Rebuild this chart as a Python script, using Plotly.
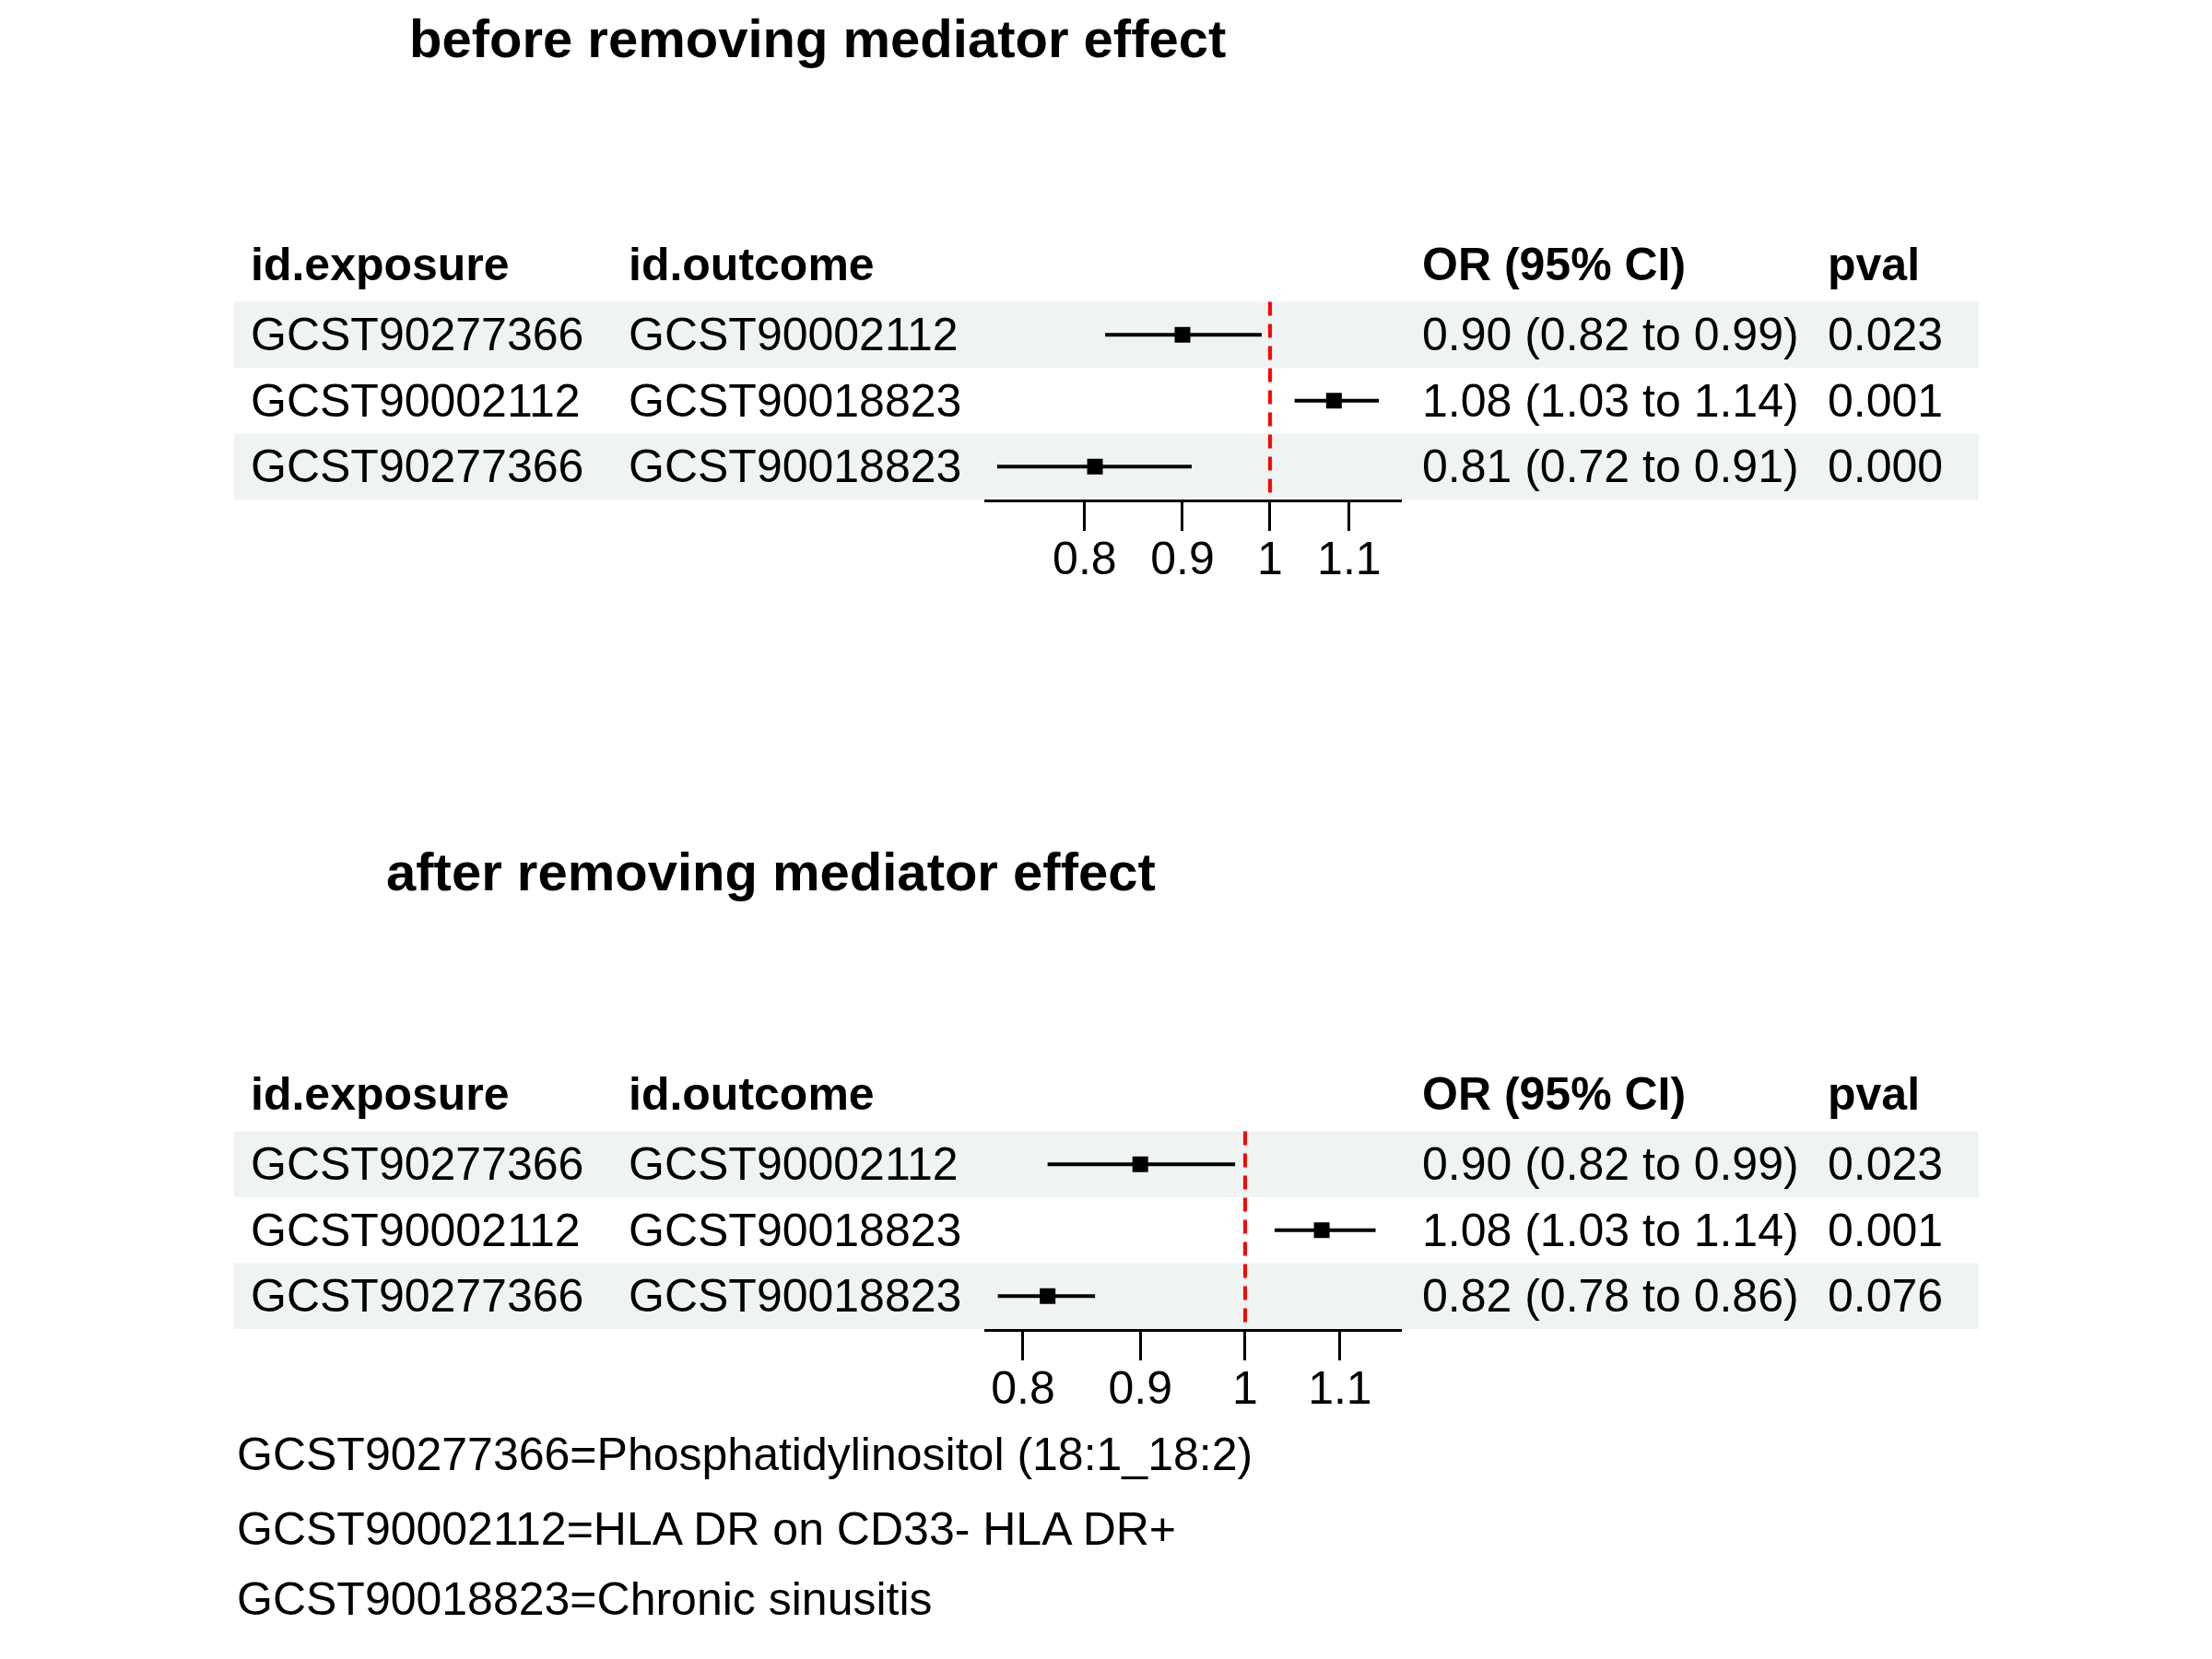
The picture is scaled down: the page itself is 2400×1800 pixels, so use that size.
import plotly.graph_objects as go
import numpy as np

# table data
exposure = ["GCST90277366", "GCST90002112", "GCST90277366"]
outcome = ["GCST90002112", "GCST90018823", "GCST90018823"]

before_or = [0.90, 1.08, 0.81]
before_lo = [0.82, 1.03, 0.72]
before_hi = [0.99, 1.14, 0.91]
before_p = ["0.023", "0.001", "0.000"]

after_or = [0.90, 1.08, 0.82]
after_lo = [0.82, 1.03, 0.78]
after_hi = [0.99, 1.14, 0.86]
after_p = ["0.023", "0.001", "0.076"]

headers = ["id.exposure", "id.outcome", "OR (95% CI)", "pval"]
titles = ["before removing mediator effect", "after removing mediator effect"]
notes = ["GCST90277366=Phosphatidylinositol (18:1_18:2)",
         "GCST90002112=HLA DR on CD33- HLA DR+",
         "GCST90018823=Chronic sinusitis"]
tick_vals = [0.8, 0.9, 1, 1.1]
tick_text = ["0.8", "0.9", "1", "1.1"]

W, H = 2400, 1800
OFF = 8  # page body margin
FONT = "Liberation Sans, Arial, Helvetica, sans-serif"
col_px = [270, 680, 1541, 1981]   # left edge of text columns
band_px = (254, 2147)
forest_px = (1068, 1521)

def px(x):
    return (x - OFF) / W

def py(y):
    return 1 - (y - OFF) / H

panels = [
    dict(orv=before_or, lo=before_lo, hi=before_hi, p=before_p, title=titles[0],
         title_x=442, title_y=42, top=250, axis=542, xr=(0.709, 1.172)),
    dict(orv=after_or, lo=after_lo, hi=after_hi, p=after_p, title=titles[1],
         title_x=417, title_y=945, top=1150, axis=1442, xr=(0.7695, 1.1705)),
]

fig = go.Figure()
shapes = []
annotations = []
rows = [1, 2, 3]
row_h = 71.5

for k, pan in enumerate(panels):
    xa = "x" if k == 0 else "x2"
    ya = "y" if k == 0 else "y2"
    y_top = 3.5 - (pan["axis"] - pan["top"]) / row_h

    err_plus = [h - o for h, o in zip(pan["hi"], pan["orv"])]
    err_minus = [o - l for o, l in zip(pan["orv"], pan["lo"])]
    fig.add_trace(go.Scatter(
        x=pan["orv"], y=rows, mode="markers", xaxis=xa, yaxis=ya,
        marker=dict(symbol="square", size=17, color="black"),
        error_x=dict(type="data", symmetric=False, array=err_plus,
                     arrayminus=err_minus, color="black", thickness=4, width=0),
        showlegend=False, hoverinfo="skip"))

    ax_key = "xaxis" if k == 0 else "xaxis2"
    ay_key = "yaxis" if k == 0 else "yaxis2"
    fig.update_layout({
        ax_key: dict(type="log", domain=[px(forest_px[0]), px(forest_px[1])],
                     range=[np.log10(pan["xr"][0]), np.log10(pan["xr"][1])],
                     anchor=ya, tickvals=tick_vals, ticktext=tick_text,
                     ticks="outside", ticklen=31, tickwidth=3, tickcolor="black",
                     ticklabelstandoff=-13,
                     showline=True, linewidth=3.3, linecolor="black",
                     showgrid=False, zeroline=False,
                     tickfont=dict(family=FONT, size=50, color="black")),
        ay_key: dict(domain=[py(pan["axis"]), py(pan["top"])],
                     range=[3.5, y_top], anchor=xa, visible=False,
                     showgrid=False, zeroline=False),
    })

    # shaded rows
    for r in (1, 3):
        shapes.append(dict(type="rect", xref="paper", yref=ya,
                           x0=px(band_px[0]), x1=px(band_px[1]),
                           y0=r - 0.5, y1=r + 0.5, fillcolor="#eff3f2",
                           line=dict(width=0), layer="below"))
    # reference line
    shapes.append(dict(type="line", xref=xa, yref=ya, x0=1, x1=1, y0=0.5, y1=3.5,
                       line=dict(color="red", width=4, dash="15px,9px")))

    # header
    for c, h in enumerate(headers):
        annotations.append(dict(text="<b>%s</b>" % h, x=px(col_px[c]), y=-0.06,
                                xref="paper", yref=ya, xanchor="left", yanchor="middle",
                                showarrow=False,
                                font=dict(family=FONT, size=50, color="black")))
    # cells
    for i, r in enumerate(rows):
        cells = [exposure[i], outcome[i],
                 "%.2f (%.2f to %.2f)" % (pan["orv"][i], pan["lo"][i], pan["hi"][i]),
                 pan["p"][i]]
        for c, t in enumerate(cells):
            annotations.append(dict(text=t, x=px(col_px[c]), y=r,
                                    xref="paper", yref=ya, xanchor="left",
                                    yanchor="middle", showarrow=False,
                                    font=dict(family=FONT, size=50, color="black")))
    # title
    annotations.append(dict(text="<b>%s</b>" % pan["title"], x=px(pan["title_x"]),
                            y=py(pan["title_y"]), xref="paper", yref="paper",
                            xanchor="left", yanchor="middle", showarrow=False,
                            font=dict(family=FONT, size=58, color="black")))

# footnotes
for n, yy in zip(notes, [1578, 1659, 1735]):
    annotations.append(dict(text=n, x=px(255), y=py(yy), xref="paper", yref="paper",
                            xanchor="left", yanchor="middle", showarrow=False,
                            font=dict(family=FONT, size=50, color="black")))

fig.update_layout(width=W, height=H, margin=dict(l=0, r=0, t=0, b=0),
                  paper_bgcolor="white", plot_bgcolor="rgba(0,0,0,0)",
                  shapes=shapes, annotations=annotations, showlegend=False)

fig.write_html("out.html")
